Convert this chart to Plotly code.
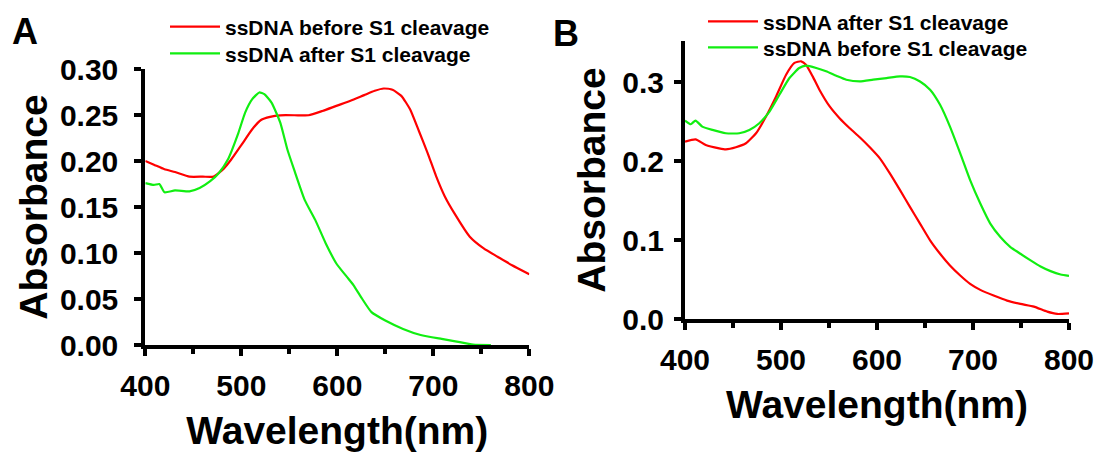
import plotly.graph_objects as go

# ---------------- data ----------------
# Panel A
a_before_wl = [400, 409, 420, 431, 446, 460, 471, 482, 489.5, 500.5, 511, 520.5, 530, 540.6, 559, 570,
               584.5, 599, 613.7, 628, 639, 648.4, 657.5, 666.7, 675.8, 685, 694, 703, 712, 723, 738,
               752.5, 767, 782, 800]
a_before_abs = [0.200, 0.196, 0.191, 0.188, 0.183, 0.183, 0.183, 0.192, 0.2016, 0.218, 0.234, 0.2446,
                0.248, 0.2497, 0.2497, 0.2497, 0.2544, 0.2599, 0.2654, 0.2716, 0.2763, 0.2788, 0.2774,
                0.2708, 0.2562, 0.2326, 0.2089, 0.1833, 0.1615, 0.1414, 0.1177, 0.105, 0.0959, 0.0867,
                0.0769]
a_after_wl = [400, 409, 414.6, 420, 431, 446, 456.6, 467.6, 476.7, 486, 497, 504, 511.4, 518.7, 524,
              531.5, 540.6, 548, 555, 566, 577, 588, 599, 610, 617, 624.7, 635.6, 650, 668.5, 686.8,
              708.7, 723, 741.5, 760]
a_after_abs = [0.176, 0.174, 0.175, 0.166, 0.168, 0.167, 0.1706, 0.178, 0.187, 0.2016, 0.2307, 0.2526,
               0.2672, 0.2745, 0.2726, 0.2635, 0.2417, 0.2125, 0.1906, 0.1578, 0.136, 0.1104, 0.0886,
               0.074, 0.0649, 0.0521, 0.0357, 0.0266, 0.0175, 0.0109, 0.0066, 0.004, 0.0004, 0.0]

# Panel B
b_after_wl = [400, 411, 421.6, 435.6, 442.5, 453, 463.5, 474, 484.4, 494.9, 505.3, 514, 521, 526, 533,
              540, 550.7, 561, 571.6, 582, 592.5, 603, 613.4, 624, 634.3, 644.8, 655.3, 665.7, 676,
              686.7, 697, 707.6, 721.5, 735.5, 749.4, 763.4, 777.3, 787.8, 800]
b_after_abs = [0.2246, 0.2275, 0.2203, 0.2161, 0.2148, 0.2174, 0.2225, 0.2352, 0.2564, 0.2818, 0.3093,
               0.3242, 0.3263, 0.322, 0.3072, 0.2903, 0.2691, 0.2542, 0.2415, 0.2301, 0.2174, 0.2034,
               0.1843, 0.1631, 0.142, 0.1208, 0.0996, 0.0826, 0.0678, 0.0551, 0.0445, 0.0369, 0.0297,
               0.0233, 0.0191, 0.0157, 0.0093, 0.0064, 0.0072]
b_before_wl = [400, 406, 411, 418, 428.6, 442.5, 456.5, 467, 477.4, 488, 498.3, 508.8, 519, 526, 536.7,
               547, 557.6, 568, 582, 596, 610, 624, 634.3, 644.8, 655.3, 665.7, 676, 686.7, 697, 707.6,
               718, 728.5, 739, 749.4, 760, 770.4, 780.8, 791.3, 800]
b_before_abs = [0.2513, 0.2466, 0.2513, 0.2436, 0.2394, 0.2352, 0.2352, 0.2394, 0.2479, 0.2627, 0.2839,
                0.3051, 0.3178, 0.3208, 0.3178, 0.3136, 0.308, 0.303, 0.3008, 0.303, 0.3051, 0.3072,
                0.3064, 0.3008, 0.2903, 0.2712, 0.2436, 0.2097, 0.1758, 0.1462, 0.1208, 0.1038, 0.0911,
                0.0826, 0.0742, 0.0665, 0.0606, 0.0564, 0.0547]

x_ticks = [400, 500, 600, 700, 800]
x_minor_ticks = [450, 550, 650, 750]
a_y_ticks = [0.00, 0.05, 0.10, 0.15, 0.20, 0.25, 0.30]
b_y_ticks = [0.0, 0.1, 0.2, 0.3]

RED = "#ff0000"
GREEN = "#11ee11"
FONT = "Arial, 'Liberation Sans', sans-serif"
W, H = 1097, 454

fig = go.Figure()
line_kw = dict(width=2.2, shape="spline", smoothing=0.5)
fig.add_trace(go.Scatter(x=a_before_wl, y=a_before_abs, mode="lines", name="ssDNA before S1 cleavage",
                         line=dict(color=RED, **line_kw), xaxis="x", yaxis="y", legend="legend",
                         showlegend=True))
fig.add_trace(go.Scatter(x=a_after_wl, y=a_after_abs, mode="lines", name="ssDNA after S1 cleavage",
                         line=dict(color=GREEN, **line_kw), xaxis="x", yaxis="y", legend="legend2",
                         showlegend=True))
fig.add_trace(go.Scatter(x=b_after_wl, y=b_after_abs, mode="lines", name="ssDNA after S1 cleavage",
                         line=dict(color=RED, **line_kw), xaxis="x2", yaxis="y2", legend="legend3",
                         showlegend=True))
fig.add_trace(go.Scatter(x=b_before_wl, y=b_before_abs, mode="lines", name="ssDNA before S1 cleavage",
                         line=dict(color=GREEN, **line_kw), xaxis="x2", yaxis="y2", legend="legend4",
                         showlegend=True))


def px_x(p):
    return p / W


def px_y(p):
    return 1 - p / H


tickfont = dict(family=FONT, size=30, color="black", weight="bold")
titlefont = dict(family=FONT, size=39, color="black", weight="bold")
common = dict(showline=True, linecolor="#000000", linewidth=4, ticks="outside", ticklen=7, tickwidth=4,
              tickcolor="#000000", showgrid=False, zeroline=False, tickfont=tickfont, automargin=False,
              layer="above traces")

xcommon = dict(common, range=[400, 800], tickmode="array", tickvals=x_ticks, ticklabelstandoff=4,
               minor=dict(tickmode="array", tickvals=x_minor_ticks, ticks="outside", ticklen=5,
                          tickwidth=4, tickcolor="#000000", showgrid=False))


def legend_at(xp, yp):
    return dict(x=px_x(xp), xanchor="left", y=px_y(yp), yanchor="middle", bgcolor="rgba(0,0,0,0)",
                font=dict(family=FONT, size=21, color="black", weight="bold"), itemwidth=50,
                borderwidth=0, visible=True)


fig.update_layout(
    width=W, height=H, margin=dict(l=0, r=0, t=0, b=0), template="none",
    paper_bgcolor="white", plot_bgcolor="white", showlegend=True,
    xaxis=dict(xcommon, domain=[px_x(145.3), px_x(529.3)], anchor="y",
               title=dict(text="Wavelength(nm)", font=titlefont, standoff=17)),
    yaxis=dict(common, domain=[px_y(345), px_y(69)], anchor="x", range=[0, 0.30], tickmode="array",
               tickvals=a_y_ticks, tickformat=".2f", ticklabelstandoff=10,
               title=dict(text="Absorbance", font=titlefont, standoff=1)),
    xaxis2=dict(xcommon, domain=[px_x(685), px_x(1069)], anchor="y2",
                title=dict(text="Wavelength(nm)", font=titlefont, standoff=17)),
    yaxis2=dict(common, domain=[px_y(319), px_y(41)], anchor="x2", range=[0, 0.352], tickmode="array",
                tickvals=b_y_ticks, tickformat=".1f", ticklabelstandoff=4,
                title=dict(text="Absorbance", font=titlefont, standoff=6)),
    legend=legend_at(165, 27),
    legend2=legend_at(165, 53.7),
    legend3=legend_at(703, 21.7),
    legend4=legend_at(703, 47.8),
    annotations=[
        dict(text="A", x=px_x(10), y=px_y(32), xref="paper", yref="paper", xanchor="left",
             yanchor="middle", showarrow=False,
             font=dict(family=FONT, size=36, color="black", weight="bold")),
        dict(text="B", x=px_x(551), y=px_y(33), xref="paper", yref="paper", xanchor="left",
             yanchor="middle", showarrow=False,
             font=dict(family=FONT, size=36, color="black", weight="bold")),
    ],
)

fig.write_html("out.html", config={"displayModeBar": False},
               post_script="document.body.style.margin='0';document.body.style.overflow='hidden';")
